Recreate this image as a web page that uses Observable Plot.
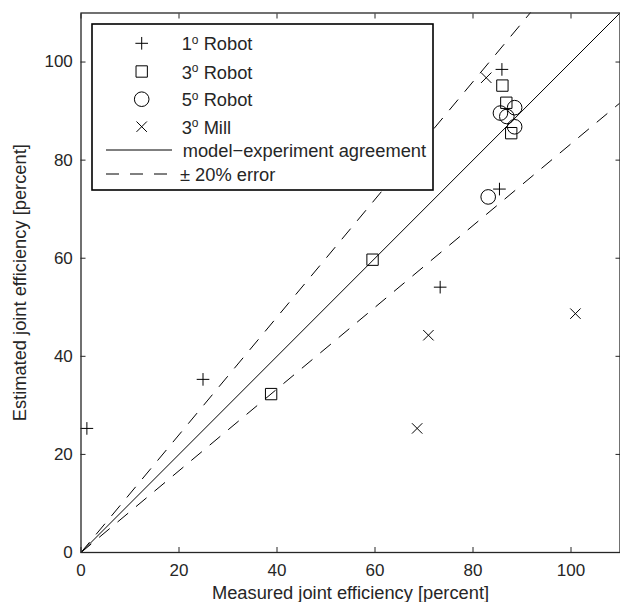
<!DOCTYPE html>
<html><head><meta charset="utf-8">
<script src="https://cdn.jsdelivr.net/npm/d3@7"></script>
<script src="https://cdn.jsdelivr.net/npm/@observablehq/plot@0.6"></script>
<style>
body{margin:0;background:#fff;}
#chart{position:relative;width:620px;height:602px;overflow:hidden;background:#fff;}
</style></head><body><div id="chart"></div>
<script>
// ---- data ----
const xTicks = [0, 20, 40, 60, 80, 100];
const yTicks = [0, 20, 40, 60, 80, 100];
const axisDomain = [0, 110];
const xLabel = "Measured joint efficiency [percent]";
const yLabel = "Estimated joint efficiency [percent]";

const robot1X = [1.2, 24.9, 73.3, 85.4, 85.9];
const robot1Y = [25.3, 35.3, 54.1, 74.1, 98.5];
const robot3X = [38.8, 59.5, 86.0, 86.8, 87.8];
const robot3Y = [32.3, 59.7, 95.2, 91.7, 85.5];
const robot5X = [83.1, 85.6, 86.9, 88.5, 88.5];
const robot5Y = [72.5, 89.6, 88.9, 90.7, 86.8];
const mill3X = [68.6, 70.9, 82.7, 100.9];
const mill3Y = [25.3, 44.3, 96.8, 48.7];

const agreementSlope = 1;
const errorSlopes = [1.2, 1 / 1.2];
const lineXs = [0, 110];

const legendDegrees = ["1", "3", "5", "3"];
const legendNames = ["Robot", "Robot", "Robot", "Mill"];
const legendLineLabels = ["model\u2212experiment agreement", "\u00b1 20% error"];

// ---- style ----
const FONT = "'Liberation Sans', Arial, Helvetica, sans-serif";
const INK = "#000";
const AX = "#262626";
const DASH = "13,11";
const TICKFS = 17;
const LABELFS = 18.3;
const SYM = {plus: 4.15, square: 6.4, circle: 7.3, times: 4.8};

const rows = (xs, ys) => xs.map((x, i) => ({x, y: ys[i]}));

const plot = Plot.plot({
  width: 620, height: 602,
  marginLeft: 80.5, marginRight: 0.5, marginTop: 12.5, marginBottom: 50,
  style: {fontFamily: FONT, fontSize: "16px", color: AX, background: "#fff"},
  x: {domain: axisDomain},
  y: {domain: axisDomain},
  marks: [
    Plot.line(lineXs, {x: d => d, y: d => d * agreementSlope, stroke: INK, strokeWidth: 1, clip: true}),
    ...errorSlopes.map(k => Plot.line(lineXs, {x: d => d, y: d => d * k, stroke: INK, strokeWidth: 1, strokeDasharray: DASH, clip: true})),
    Plot.dot(rows(robot1X, robot1Y), {x: "x", y: "y", symbol: "plus", r: SYM.plus, stroke: INK, strokeWidth: 1}),
    Plot.dot(rows(robot3X, robot3Y), {x: "x", y: "y", symbol: "square", r: SYM.square, stroke: INK, fill: "none", strokeWidth: 1}),
    Plot.dot(rows(robot5X, robot5Y), {x: "x", y: "y", symbol: "circle", r: SYM.circle, stroke: INK, fill: "none", strokeWidth: 1}),
    Plot.dot(rows(mill3X, mill3Y), {x: "x", y: "y", symbol: "times", r: SYM.times, stroke: INK, strokeWidth: 1}),
    Plot.frame({stroke: AX, strokeWidth: 1.3}),
    Plot.axisX({anchor: "bottom", ticks: xTicks, tickSize: -5, tickPadding: 16.7, label: null, fontSize: TICKFS, stroke: AX, fill: AX}),
    Plot.axisX({anchor: "top", ticks: xTicks, tickSize: -5, tickFormat: () => "", label: null, stroke: AX}),
    Plot.axisY({anchor: "left", ticks: yTicks, tickSize: -5, tickPadding: 13.2, label: null, fontSize: TICKFS, stroke: AX, fill: AX}),
    Plot.axisY({anchor: "right", ticks: yTicks, tickSize: -5, tickFormat: () => "", label: null, stroke: AX}),
    Plot.text([xLabel], {text: d => d, frameAnchor: "bottom", textAnchor: "middle", dy: 46.8, lineAnchor: "bottom", fontSize: LABELFS, fill: AX}),
    Plot.text([yLabel], {text: d => d, frameAnchor: "left", textAnchor: "middle", rotate: -90, dx: -55, lineAnchor: "bottom", fontSize: LABELFS, fill: AX})
  ]
});
document.getElementById("chart").appendChild(plot);

// ---- legend ----
const svg = d3.select(plot);
const lg = svg.append("g").attr("font-family", FONT).attr("fill", AX).attr("text-anchor", "start");
lg.append("rect").attr("x", 92).attr("y", 24).attr("width", 341).attr("height", 166)
  .attr("fill", "#fff").attr("stroke", INK).attr("stroke-width", 1.6);

const legendSymbols = [
  [d3.symbolPlus, SYM.plus],
  [d3.symbolSquare, SYM.square],
  [d3.symbolCircle, SYM.circle],
  [d3.symbolTimes, SYM.times]
];
const rowY = [43.3, 71.5, 99.2, 126.7];
legendSymbols.forEach(([s, r], i) => {
  lg.append("path").attr("d", d3.symbol(s, r * r * Math.PI)())
    .attr("transform", `translate(141.7,${rowY[i]})`)
    .attr("fill", "none").attr("stroke", INK).attr("stroke-width", 1);
  const t = lg.append("text").attr("x", 181.7).attr("y", rowY[i] + 7).attr("font-size", LABELFS);
  t.append("tspan").text(legendDegrees[i]);
  t.append("tspan").attr("font-size", 12).attr("dy", -6.5).text("o");
  t.append("tspan").attr("dy", 6.5).text(" " + legendNames[i]);
});
const lineRowY = [150, 174];
lineRowY.forEach((y, i) => {
  lg.append("line").attr("x1", 106).attr("x2", 172).attr("y1", y).attr("y2", y)
    .attr("stroke", INK).attr("stroke-width", 1).attr("stroke-dasharray", i ? DASH : null);
  lg.append("text").attr("x", i ? 180 : 182.7).attr("y", y + 6.8).attr("font-size", LABELFS).text(legendLineLabels[i]);
});
</script>
</body></html>
